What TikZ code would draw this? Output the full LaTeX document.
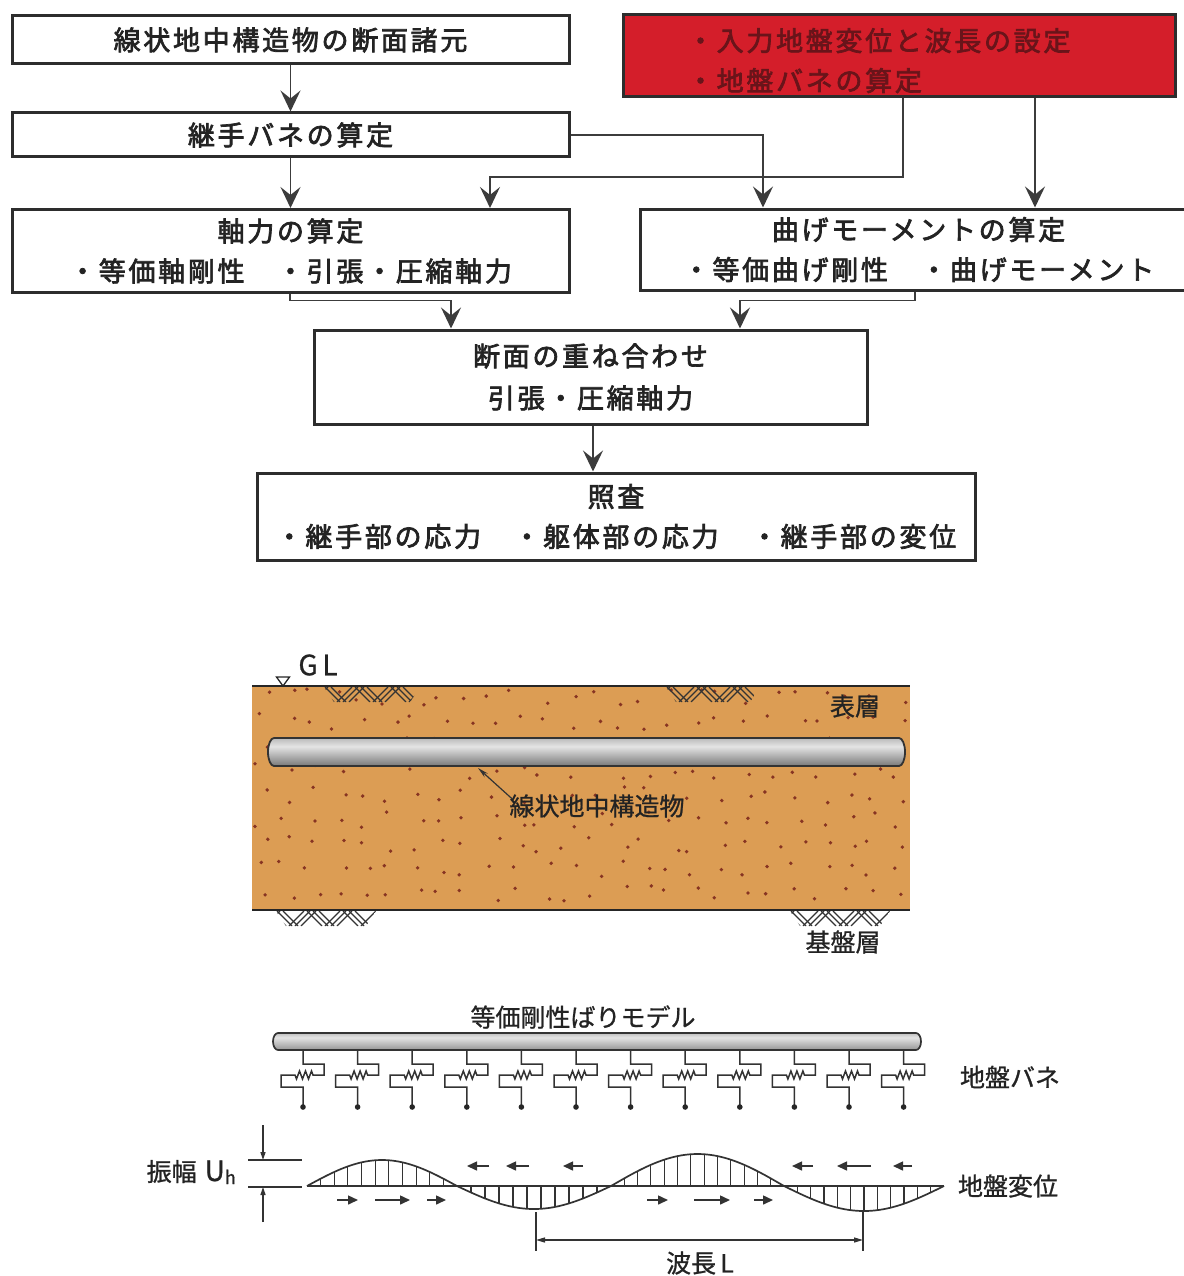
\documentclass[tikz,border=0pt]{standalone}
\usepackage{fontspec}
\usetikzlibrary{arrows.meta,calc}

\newfontfamily\jpbold[FakeBold=2.6,LetterSpace=10]{Noto Sans CJK JP}
\newfontfamily\jplight[FakeBold=0.9]{Noto Sans CJK JP}
\newcommand\boxfont{\jpbold\fontsize{27}{40}\selectfont}
\newcommand\labfont{\jplight\fontsize{25}{30}\selectfont}

\definecolor{boxline}{RGB}{45,45,45}
\definecolor{flowc}{RGB}{60,60,60}
\definecolor{textc}{RGB}{35,35,35}
\definecolor{redf}{RGB}{212,30,42}
\definecolor{redtext}{RGB}{105,20,26}
\definecolor{soil}{RGB}{220,157,84}
\definecolor{dotc}{RGB}{135,52,34}
\definecolor{pipeD}{RGB}{60,60,60}
\definecolor{pipeM}{RGB}{120,120,120}
\definecolor{pipeL}{RGB}{228,228,228}
\definecolor{pipeM2}{RGB}{160,160,160}
\definecolor{pipeD2}{RGB}{105,105,105}

\pgfdeclareverticalshading{pipeshade}{100bp}{color(0bp)=(pipeD); color(25bp)=(pipeM); color(60bp)=(pipeL); color(84bp)=(pipeM2); color(100bp)=(pipeD2)}
\pgfdeclareverticalshading{beamshade}{100bp}{color(0bp)=(pipeD2); color(30bp)=(pipeM2); color(62bp)=(pipeL); color(100bp)=(pipeM)}

% ground hatching band below a horizontal line: left x, line y, width
\newcommand\hatchband[3]{%
  \begin{scope}
    \clip (#1,#2) -- (#1+#3,#2) -- (#1+#3-10,#2+15) -- (#1+10,#2+15) -- cycle;
    \foreach \k in {0,...,26}{
      \pgfmathtruncatemacro\grp{mod(floor(\k/3),2)}
      \ifnum\grp=0
        \draw[hatchline] (#1-8+6*\k,#2) -- ++(-15,15);
      \else
        \draw[hatchline] (#1-8+6*\k-15,#2) -- ++(15,15);
      \fi}
  \end{scope}}

\begin{document}
\begin{tikzpicture}[x=1pt,y=-1pt,
  box/.style={draw=boxline, line width=3pt, fill=white, inner sep=0pt,
    align=center, font=\boxfont, text=textc},
  flow/.style={draw=flowc, line width=1.7pt,
    -{Stealth[length=21pt,width=20pt,inset=8pt]}},
  hatchline/.style={line width=1.3pt, draw=black!80},
  label/.style={font=\labfont, text=textc, inner sep=0pt},
  thinl/.style={line width=1.3pt, draw=black!80},
  spring/.style={line width=1.5pt, draw=black!80, line join=miter},
  smallarr/.style={line width=1.5pt, draw=black!80,
    -{Triangle[length=10pt,width=9pt]}},
  wave/.style={line width=1.7pt, draw=black!80},
  hatchv/.style={line width=1.1pt, draw=black!80}]

\fill[white] (0,0) rectangle (1183,1276);
\useasboundingbox (0,0) rectangle (1183,1276);

% ---------------- flow chart ----------------
\node[box, minimum width=557pt, minimum height=48pt] (b1) at (290.5,40)
  {線状地中構造物の断面諸元};
\node[box, minimum width=557pt, minimum height=44pt] (b2) at (290.5,135)
  {継手バネの算定};
\node[box, fill=redf, text=redtext, minimum width=552pt, minimum height=82pt,
  align=left, text width=424pt] (rb) at (899,56)
  {\rule{0pt}{32pt}・入力地盤変位と波長の設定\\・地盤バネの算定};
\node[box, minimum width=557pt, minimum height=83pt] (b3) at (290.5,251)
  {軸力の算定\\・等価軸剛性　・引張・圧縮軸力};
\node[box, minimum width=557pt, minimum height=81pt] (b4) at (918.5,249.5)
  {曲げモーメントの算定\\・等価曲げ剛性　・曲げモーメント};
\node[box, minimum width=553pt, minimum height=94pt] (b5) at (590.5,377)
  {断面の重ね合わせ\\[2pt]引張・圧縮軸力};
\node[box, minimum width=718pt, minimum height=87pt] (b6) at (616,516.5)
  {照査\\・継手部の応力　・躯体部の応力　・継手部の変位};

\draw[flow] (b1.south) -- (b2.north);
\draw[flow] (b2.south) -- (b3.north);
\draw[flow] (b2.east) -| ($(b4.north west)+(124.5,0)$);
\draw[flow] ($(rb.south west)+(281.5,0)$) |- ($(b3.north west)+(479.5,-31)$)
  -- ($(b3.north west)+(479.5,0)$);
\draw[flow] ($(rb.south west)+(413.5,0)$) -- ($(b4.north west)+(396.5,0)$);
\draw[flow] ($(b3.south west)+(279.5,0)$) |- ($(b5.north west)+(138.5,-28)$)
  -- ($(b5.north west)+(138.5,0)$);
\draw[flow] ($(b4.south west)+(276.5,0)$) |- ($(b5.north west)+(427.5,-28)$)
  -- ($(b5.north west)+(427.5,0)$);
\draw[flow] ($(b5.south west)+(280.5,0)$) -- ($(b6.north west)+(337.5,0)$);

% ---------------- ground section ----------------
\fill[soil] (252,686) rectangle (910,910);
\pgfmathsetseed{17}
\foreach \i in {0,...,25}{
  \foreach \j in {0,...,8}{
    \pgfmathsetmacro\dx{262+25.5*\i+9*rand}
    \pgfmathsetmacro\dy{697+24.5*\j+8*rand}
    \fill[dotc] (\dx,\dy) circle[radius=1.9pt];}}
\draw[line width=2pt, black!85] (252,686) -- (910,686);
\draw[line width=2pt, black!85] (252,910) -- (910,910);
\hatchband{324}{687}{96}
\hatchband{666}{687}{94}
\hatchband{276}{911}{100}
\hatchband{790}{911}{100}

% ground level mark
\draw[line width=1.3pt, black!85] (283,686) -- (276.5,677) -- (289.5,677) -- cycle;
\node[font=\jplight\fontsize{28}{30}\selectfont, text=textc, inner sep=0pt] (gl) at (318,665) {G\,L};

% buried pipe
\shade[shading=pipeshade] (274,738) -- (899,738)
  arc[start angle=-90, end angle=90, x radius=6, y radius=14]
  -- (274,766) arc[start angle=90, end angle=270, x radius=6, y radius=14] -- cycle;
\draw[line width=1.8pt, black!80] (274,738) -- (899,738)
  arc[start angle=-90, end angle=90, x radius=6, y radius=14]
  -- (274,766) arc[start angle=90, end angle=270, x radius=6, y radius=14] -- cycle;
\coordinate (pipept) at (478,768);

\node[label] (surf) at (855,706) {表層};
\node[label] (base) at (843,942) {基盤層};
\node[label] (lbl) at (597,806) {線状地中構造物};
\draw[line width=1.2pt, black!80, -{Stealth[length=11pt,width=5pt]}]
  ($(lbl.west)+(3,-7)$) -- (pipept);

% ---------------- beam on springs ----------------
\node[label] (beamlbl) at (583,1017) {等価剛性ばりモデル};
\shade[shading=beamshade] (278,1033) -- (916,1033)
  arc[start angle=-90, end angle=90, x radius=5, y radius=8.5]
  -- (278,1050) arc[start angle=90, end angle=270, x radius=5, y radius=8.5] -- cycle;
\draw[line width=1.7pt, black!80] (278,1033) -- (916,1033)
  arc[start angle=-90, end angle=90, x radius=5, y radius=8.5]
  -- (278,1050) arc[start angle=90, end angle=270, x radius=5, y radius=8.5] -- cycle;
\foreach \i in {0,...,11}{
  \pgfmathsetmacro\xo{303+54.6*\i}
  \draw[spring] (\xo,1050) -- (\xo,1064) -- (\xo+21,1064) -- (\xo+21,1075)
    -- (\xo+10,1075) -- (\xo+8.5,1071) -- (\xo+5.5,1079) -- (\xo+2.5,1071)
    -- (\xo-0.5,1079) -- (\xo-3.5,1071) -- (\xo-6.5,1079) -- (\xo-8,1075)
    -- (\xo-22,1075) -- (\xo-22,1087) -- (\xo,1087) -- (\xo,1106);
  \fill[black!85] (\xo,1107) circle[radius=2.8pt];}
\node[label] (springlbl) at (1010,1077) {地盤バネ};

% ---------------- ground displacement ----------------
\draw[wave] (307,1186) -- (944,1186);
\foreach \xa/\xb/\amp in {307/457/26, 457/611/-23, 611/784/32, 784/944/-25}{
  \draw[wave] plot[domain=\xa:\xb, samples=50, smooth]
    (\x,{1186-\amp*sin((\x-\xa)/(\xb-\xa)*180)});
  \pgfmathtruncatemacro\nseg{round((\xb-\xa)/13.5)}
  \pgfmathtruncatemacro\nlines{\nseg-1}
  \foreach \m in {1,...,\nlines}{
    \pgfmathsetmacro\xx{\xa+(\xb-\xa)/\nseg*\m}
    \pgfmathsetmacro\yy{1186-\amp*sin(\m/\nseg*180)}
    \draw[hatchv] (\xx,1186) -- (\xx,\yy);}}

% motion arrows
\foreach \s/\e in {489/467, 529/506, 583/563, 813/792, 871/837, 912/893}
  \draw[smallarr] (\s,1166) -- (\e,1166);
\foreach \s/\e in {337/358, 375/410, 427/446, 647/668, 694/730, 754/773}
  \draw[smallarr] (\s,1200) -- (\e,1200);
\node[label] (displbl) at (1008,1186) {地盤変位};

% amplitude
\coordinate (amptop) at (263,1160);
\coordinate (ampbot) at (263,1187);
\coordinate (ampin) at (263,1125);
\coordinate (ampout) at (263,1222);
\draw[thinl] (248,1160) -- (302,1160);
\draw[thinl] (248,1187) -- (302,1187);
\draw[thinl, -{Triangle[length=8pt,width=5pt]}] (ampin) -- (amptop);
\draw[thinl, -{Triangle[length=8pt,width=5pt]}] (ampout) -- (ampbot);
\node[label, anchor=east] (amplbl) at (236,1172)
  {振幅\hspace{8pt}{\fontsize{28}{30}\selectfont U}\raisebox{-3pt}{\fontsize{18}{18}\selectfont h}};

% wavelength
\coordinate (wl1) at (536,1240);
\coordinate (wl2) at (863,1240);
\draw[thinl] (536,1212) -- (536,1251);
\draw[thinl] (863,1212) -- (863,1251);
\draw[thinl, {Triangle[length=9pt,width=5pt]}-{Triangle[length=9pt,width=5pt]}] (wl1) -- (wl2);
\node[label] (wllbl) at (700,1263) {波長\,L};

\end{tikzpicture}
\end{document}
